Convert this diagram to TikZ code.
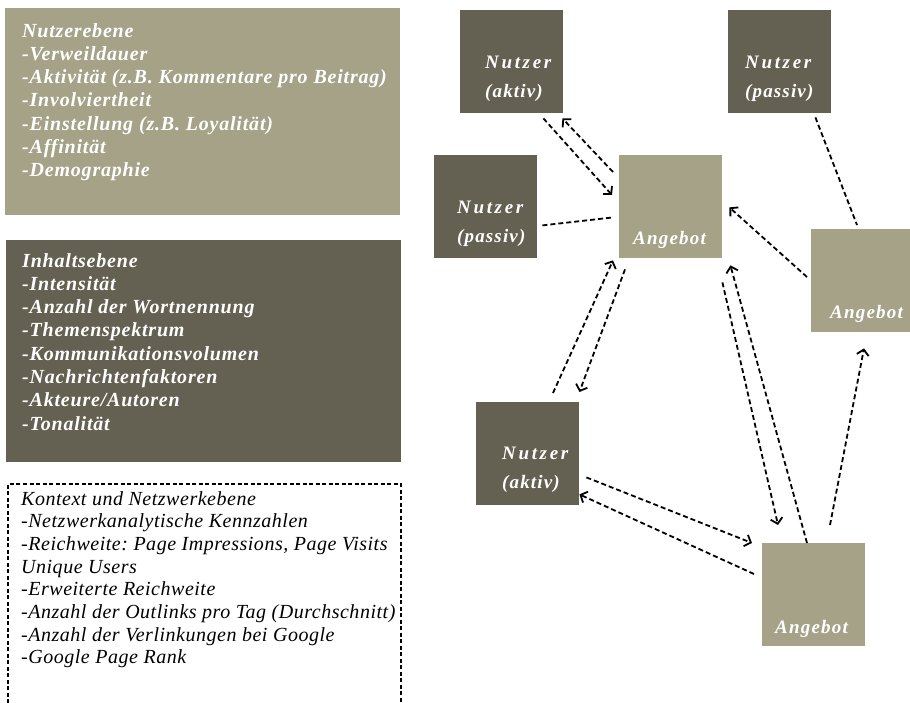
\documentclass[tikz,border=0pt]{standalone}
\usepackage{fontspec}
\setmainfont{Liberation Serif}
\usetikzlibrary{arrows.meta,calc}
\definecolor{lightol}{RGB}{165,162,136}
\definecolor{darkol}{RGB}{100,97,82}
\frenchspacing
\begin{document}
\begin{tikzpicture}[x=1pt,y=-1pt,
  sq/.style={minimum size=103pt, inner sep=0pt, anchor=north west, draw=none},
  lsq/.style={sq, fill=lightol},
  dsq/.style={sq, fill=darkol},
  sqtext/.style={anchor=north west, inner sep=0pt, align=left, text=white, font=\fontsize{19}{28.5}\selectfont\bfseries\itshape},
  panel/.style={anchor=north west, inner sep=0pt, minimum width=395pt, draw=none},
  ptext/.style={anchor=north west, inner sep=0pt, align=left, text=white, font=\fontsize{20}{23.3}\selectfont\bfseries\itshape\addfontfeature{LetterSpace=4}},
  ktext/.style={anchor=north west, inner sep=0pt, align=left, text=black, font=\fontsize{20}{22.7}\selectfont\itshape\addfontfeature{LetterSpace=2.6}},
  conn/.style={line width=1.8pt, dash pattern=on 5pt off 3pt},
  arr/.style={conn, -{Straight Barb[length=5.5pt,width=12pt]}}
]
\useasboundingbox (0,0) rectangle (910,703);

% left panels
\node[panel, fill=lightol, minimum height=207pt] (P1) at (5,8) {};
\node[ptext] (P1t) at (22,23) {Nutzerebene\\-Verweildauer\\-Aktivität (z.B. Kommentare pro Beitrag)\\-Involviertheit\\-Einstellung (z.B. Loyalität)\\-Affinität\\-Demographie};

\node[panel, fill=darkol, minimum height=222pt] (P2) at (6,240) {};
\node[ptext] (P2t) at (22,253) {Inhaltsebene\\-Intensität\\-Anzahl der Wortnennung\\-Themenspektrum\\-Kommunikationsvolumen\\-Nachrichtenfaktoren\\-Akteure/Autoren\\-Tonalität};

\draw[line width=2.6pt, dash pattern=on 4pt off 2.5pt] (8,703) -- (8,484) -- (401,484) -- (401,703);
\node[ktext] (P3t) at (21,491) {Kontext und Netzwerkebene\\-Netzwerkanalytische Kennzahlen\\-Reichweite: Page Impressions, Page Visits\\Unique Users\\-Erweiterte Reichweite\\-Anzahl der Outlinks pro Tag (Durchschnitt)\\-Anzahl der Verlinkungen bei Google\\-Google Page Rank};

% squares
\node[dsq] (N1) at (460,10) {};
\node[dsq] (N2) at (728,10) {};
\node[dsq] (N3) at (434,155) {};
\node[lsq] (A1) at (619,155) {};
\node[lsq] (A2) at (811,229) {};
\node[dsq] (N4) at (476,402) {};
\node[lsq] (A3) at (762,543) {};

\node[sqtext] (N1t) at (485,56) {\addfontfeature{LetterSpace=14}Nutzer\\\addfontfeature{LetterSpace=6}(aktiv)};
\node[sqtext] (N2t) at (745,56) {\addfontfeature{LetterSpace=14}Nutzer\\\addfontfeature{LetterSpace=6}(passiv)};
\node[sqtext] (N3t) at (457,201) {\addfontfeature{LetterSpace=14}Nutzer\\\addfontfeature{LetterSpace=6}(passiv)};
\node[sqtext] (N4t) at (502,447) {\addfontfeature{LetterSpace=14}Nutzer\\\addfontfeature{LetterSpace=6}(aktiv)};
\node[sqtext] (A1t) at (633,231) {\addfontfeature{LetterSpace=6.4}Angebot};
\node[sqtext] (A2t) at (830,305) {\addfontfeature{LetterSpace=6.4}Angebot};
\node[sqtext] (A3t) at (775,620) {\addfontfeature{LetterSpace=6.4}Angebot};

% connectors
\draw[arr] ($(N1.south east)+(-20,5)$) -- ($(A1.north west)+(-7,40)$);
\draw[arr] ($(A1.north west)+(-6,17)$) -- ($(N1.south east)+(-1,5)$);
\draw[conn] ($(N3.south east)+(5,-33)$) -- ($(A1.south west)+(-6,-41)$);
\draw[conn] ($(N2.south east)+(-16,4)$) -- ($(A2.north west)+(46,-4)$);
\draw[arr] ($(A2.north west)+(-4,48)$) -- ($(A1.south east)+(7,-51)$);
\draw[arr] ($(N4.north west)+(77,-9)$) -- ($(A1.south west)+(-6,2)$);
\draw[arr] ($(A1.south west)+(6,11)$) -- ($(N4.north east)+(0,-10)$);
\draw[arr] ($(A1.south east)+(0,24)$) -- ($(A3.north west)+(16,-18)$);
\draw[arr] ($(A3.north west)+(45,0)$) -- ($(A1.south east)+(8,7)$);
\draw[arr] ($(A3.north west)+(68,-18)$) -- ($(A2.south west)+(53,16)$);
\draw[arr] ($(N4.south east)+(7,-28)$) -- ($(A3.north west)+(-10,0)$);
\draw[arr] ($(A3.north west)+(-8,31)$) -- ($(N4.south east)+(0,-11)$);
\end{tikzpicture}
\end{document}
